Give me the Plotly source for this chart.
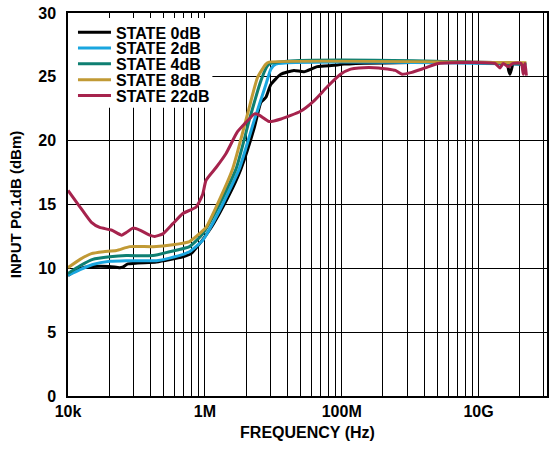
import plotly.graph_objects as go

# ---------------- data ----------------
f_0db = [1e4, 1.5e4, 2.3e4, 4e4, 5.7e4, 6.3e4, 7.5e4, 1.95e5, 4.77e5, 6.3e5, 8.3e5,
         1.17e6, 1.63e6, 2.55e6, 3.38e6, 5.27e6, 6.6e6, 7.8e6, 9.2e6, 1.29e7, 2.0e7,
         2.8e7, 4.4e7, 7.7e7, 1.08e8, 2.6e10, 2.75e10, 2.87e10, 3.03e10, 3.2e10, 4.2e10]
p_0db = [9.45, 10.0, 10.15, 10.15, 10.05, 10.1, 10.35, 10.5, 10.9, 11.15, 11.9,
         13.0, 14.3, 16.3, 17.8, 21.0, 23.0, 23.4, 24.4, 25.2, 25.5,
         25.4, 25.8, 25.9, 26.0, 26.0, 25.5, 25.2, 25.6, 26.0, 26.0]

f_2db = [1e4, 1.5e4, 2.3e4, 4.1e4, 7.1e4, 1.95e5, 3.05e5, 5.97e5, 9.3e5, 1.63e6,
         3.19e6, 5.27e6, 7.8e6, 9.2e6, 1.09e7, 5e10]
p_2db = [9.45, 9.9, 10.3, 10.55, 10.6, 10.6, 10.8, 11.3, 12.2, 14.5,
         17.8, 21.6, 24.4, 25.6, 26.0, 26.0]

f_4db = [1e4, 1.5e4, 2.3e4, 4.1e4, 7.1e4, 1.75e5, 3.05e5, 5.97e5, 9.3e5, 1.46e6,
         2.86e6, 4.45e6, 6.6e6, 8.7e6, 5e10]
p_4db = [9.6, 10.2, 10.7, 10.9, 11.0, 11.0, 11.3, 11.7, 12.7, 14.5,
         17.8, 21.6, 24.7, 26.0, 26.0]

f_8db = [1e4, 1.5e4, 2.2e4, 3.3e4, 5.1e4, 8e4, 1.75e5, 3.41e5, 5.97e5, 8.3e5, 1.04e6,
         1.46e6, 2.55e6, 4.21e6, 5.89e6, 7.8e6, 8.7e6, 5e10]
p_8db = [10.05, 10.7, 11.15, 11.3, 11.4, 11.7, 11.7, 11.85, 12.1, 12.7, 13.2,
         14.8, 17.8, 22.1, 24.95, 26.0, 26.15, 26.1]

f_22db = [1e4, 1.5e4, 2.2e4, 2.9e4, 4.3e4, 6.1e4, 7.1e4, 8.9e4, 1.12e5, 1.56e5, 1.85e5,
          2.44e5, 3.41e5, 4.77e5, 7.47e5, 9.3e5, 1.04e6, 1.46e6, 2.04e6, 3.0e6, 4.45e6,
          5.3e6, 6.24e6, 8.7e6, 1.3e7, 2.5e7, 3.9e7, 6.1e7, 9.6e7, 1.35e8, 1.78e8,
          3.48e8, 6.1e8, 7.6e8, 1.06e9, 1.66e9, 2.6e9, 1.74e10, 2.05e10, 2.3e10, 2.7e10,
          3.2e10, 4.2e10, 4.5e10, 4.75e10, 5.0e10]
p_22db = [16.1, 14.8, 13.6, 13.2, 13.0, 12.6, 12.8, 13.15, 13.0, 12.6, 12.5,
          12.7, 13.5, 14.3, 14.8, 15.8, 16.9, 17.9, 19.0, 20.7, 21.7,
          22.1, 22.0, 21.5, 21.7, 22.3, 23.1, 24.2, 25.2, 25.6, 25.7,
          25.7, 25.5, 25.2, 25.35, 25.7, 26.05, 26.05, 25.7, 26.05, 25.8,
          26.05, 26.05, 25.2, 26.05, 25.1]

series_names = ["STATE 0dB", "STATE 2dB", "STATE 4dB", "STATE 8dB", "STATE 22dB"]
series_f = [f_0db, f_2db, f_4db, f_8db, f_22db]
series_p = [p_0db, p_2db, p_4db, p_8db, p_22db]
series_colors = ["#000000", "#1AA6DF", "#0E7F72", "#C19A35", "#A6234D"]

x_label_vals = [1e4, 1e6, 1e8, 1e10]
x_label_text = ["10k", "1M", "100M", "10G"]
y_ticks = [0, 5, 10, 15, 20, 25, 30]

# grid positions: each labelled 100x interval is ruled like one log decade
grid_vals = []
for base in x_label_vals:
    for k in range(1, 10):
        v = base * k * k
        if v <= 1e11:
            grid_vals.append(v)
grid_text = [x_label_text[x_label_vals.index(v)] if v in x_label_vals else "" for v in grid_vals]

FONT = "Liberation Sans, Arial, Helvetica, sans-serif"

fig = go.Figure()
legend_ids = ["legend", "legend2", "legend3", "legend4", "legend5"]
for name, fx, py, col, lid in zip(series_names, series_f, series_p, series_colors, legend_ids):
    fig.add_trace(go.Scatter(x=fx, y=py, mode="lines", name=name, legend=lid,
                             line=dict(color=col, width=3, shape="spline", smoothing=0.5)))

W, H = 554, 449
ml, mr, mt, mb = 68, 5, 12, 53
plot_h = H - mt - mb
plot_w = W - ml - mr

legend_centers_px = [31.5, 47.3, 63.1, 78.9, 94.7]
layout_legends = {}
for lid, cy in zip(legend_ids, legend_centers_px):
    layout_legends[lid] = dict(
        x=(73 - ml) / plot_w, xanchor="left",
        y=(H - mb - cy) / plot_h, yanchor="middle",
        bgcolor="rgba(0,0,0,0)", borderwidth=0,
        font=dict(family=FONT, size=16, color="#000", weight="bold"),
        tracegroupgap=0, itemwidth=33)

fig.update_layout(
    width=W, height=H,
    margin=dict(l=ml, r=mr, t=mt, b=mb),
    paper_bgcolor="white", plot_bgcolor="white",
    showlegend=True,
    font=dict(family=FONT, size=16, color="#000", weight="bold"),
    **layout_legends,
)

# white box behind the legend, hiding the grid there
fig.add_shape(type="rect", xref="paper", yref="paper",
              x0=0, x1=(213 - ml) / plot_w,
              y0=(H - mb - 107) / plot_h, y1=(H - mb - 17) / plot_h,
              fillcolor="white", line=dict(width=0), layer="above")

fig.update_xaxes(
    type="log", range=[4, 11],
    tickmode="array", tickvals=grid_vals, ticktext=grid_text,
    showgrid=True, gridcolor="#000", gridwidth=1.2,
    showline=True, linecolor="#000", linewidth=1.5, mirror=True,
    ticks="", zeroline=False,
    tickfont=dict(family=FONT, size=16, color="#000", weight="bold"),
    title=dict(text="FREQUENCY (Hz)", standoff=8,
               font=dict(family=FONT, size=16, color="#000", weight="bold")),
)
fig.update_yaxes(
    range=[0, 30], tickmode="array", tickvals=y_ticks,
    showgrid=True, gridcolor="#000", gridwidth=1.2,
    showline=True, linecolor="#000", linewidth=1.5, mirror=True,
    ticks="", zeroline=False, ticklabelstandoff=7,
    tickfont=dict(family=FONT, size=16, color="#000", weight="bold"),
    title=dict(text="INPUT P0.1dB (dBm)", standoff=13,
               font=dict(family=FONT, size=15, color="#000", weight="bold")),
)

fig.write_html("out.html")
